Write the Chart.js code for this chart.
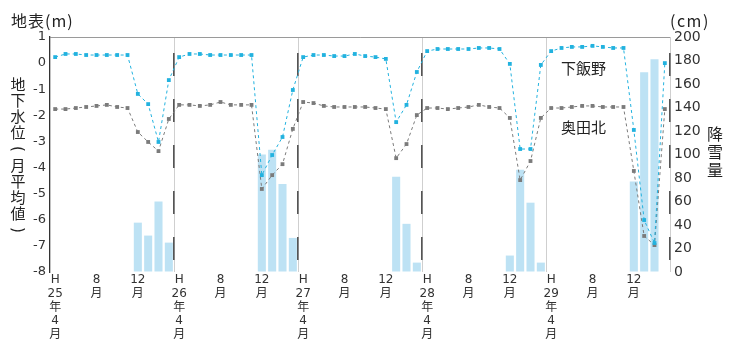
<!DOCTYPE html>
<html>
<head>
<meta charset="utf-8">
<script src="https://cdn.jsdelivr.net/npm/chart.js@4"></script>
<style>
  body { margin: 0; background: #fff; }
  #wrap { position: relative; width: 739px; height: 349px; }
  .txt { position: absolute; color: #222; font-family: "Noto Sans CJK JP", "DejaVu Sans", sans-serif; white-space: nowrap; }
  .col { text-align: center; width: 20px; }
  .rot { display: inline-block; transform: rotate(90deg); font-family: "DejaVu Sans", sans-serif; }
</style>
</head>
<body>
<div id="wrap">
  <canvas id="chartBase" width="739" height="349"></canvas>
  <div class="txt" style="left:11px; top:8px; font-size:16px; letter-spacing:1px;">地表(m)</div>
  <div class="txt col" style="left:8px; top:76px; font-size:15px; line-height:16px;">地<br>下<br>水<br>位<br><span class="rot">(</span><br>月<br>平<br>均<br>値<br><span class="rot">)</span></div>
  <div class="txt" style="left:670px; top:8px; font-size:16px; letter-spacing:1.5px;">(cm)</div>
  <div class="txt col" style="left:705px; top:124px; font-size:16px; line-height:18px;">降<br>雪<br>量</div>
  <div class="txt" style="left:561px; top:57px; font-size:15px;">下飯野</div>
  <div class="txt" style="left:561px; top:116px; font-size:15px;">奥田北</div>
</div>
<script>
// 月ラベル (H25年4月 ～ H30年3月)
const monthLabels = [
  ["H", "25", "年", "4", "月"], "", "", "", ["8", "月"], "", "", "", ["12", "月"], "", "", "",
  ["H", "26", "年", "4", "月"], "", "", "", ["8", "月"], "", "", "", ["12", "月"], "", "", "",
  ["H", "27", "年", "4", "月"], "", "", "", ["8", "月"], "", "", "", ["12", "月"], "", "", "",
  ["H", "28", "年", "4", "月"], "", "", "", ["8", "月"], "", "", "", ["12", "月"], "", "", "",
  ["H", "29", "年", "4", "月"], "", "", "", ["8", "月"], "", "", "", ["12", "月"], "", "", ""
];

// 地下水位 (m) 下飯野
const shimoIino = [
  0.23, 0.35, 0.35, 0.31, 0.31, 0.31, 0.31, 0.31, -1.18, -1.57, -3.02, -0.65,
  0.23, 0.35, 0.35, 0.31, 0.31, 0.31, 0.31, 0.31, -4.29, -3.52, -2.83, -1.03,
  0.23, 0.31, 0.31, 0.27, 0.27, 0.35, 0.27, 0.23, 0.16, -2.26, -1.6, -0.34,
  0.46, 0.54, 0.54, 0.54, 0.54, 0.58, 0.58, 0.54, -0.03, -3.29, -3.29, -0.07,
  0.46, 0.58, 0.62, 0.62, 0.66, 0.62, 0.58, 0.58, -2.56, -6.01, -6.89, 0.0
];

// 地下水位 (m) 奥田北
const okudaKita = [
  -1.76, -1.76, -1.72, -1.68, -1.64, -1.6, -1.68, -1.72, -2.64, -3.02, -3.37, -2.14,
  -1.6, -1.6, -1.64, -1.6, -1.49, -1.6, -1.6, -1.6, -4.82, -4.29, -3.87, -2.52,
  -1.49, -1.53, -1.64, -1.68, -1.68, -1.68, -1.68, -1.72, -1.76, -3.64, -3.1, -1.99,
  -1.72, -1.72, -1.76, -1.72, -1.68, -1.6, -1.68, -1.72, -2.1, -4.48, -3.75, -2.1,
  -1.72, -1.72, -1.68, -1.64, -1.64, -1.68, -1.68, -1.68, -4.13, -6.62, -6.97, -1.76
];

// 降雪量 (cm)
const kousetsu = [
  0, 0, 0, 0, 0, 0, 0, 0, 42, 31, 60, 25,
  0, 0, 0, 0, 0, 0, 0, 0, 100, 104, 75, 29,
  0, 0, 0, 0, 0, 0, 0, 0, 0, 81, 41, 8,
  0, 0, 0, 0, 0, 0, 0, 0, 14, 87, 59, 8,
  0, 0, 0, 0, 0, 0, 0, 0, 77, 170, 181, 0
];

const leftTicks = { min: -8, max: 1, step: 1 };
const rightTicks = { min: 0, max: 200, step: 20 };

const cyan = "#22b2df";
const gris = "#7b7b7b";
const snow = "#bde2f4";
const clear = "rgba(0,0,0,0)";

Chart.defaults.font.family = "'DejaVu Sans', 'Noto Sans CJK JP', sans-serif";
Chart.defaults.color = "#333";

// lineas de separacion de año (entre marzo y abril)
function sepColor(col, skip) {
  return function (ctx) {
    if (ctx.type !== "tick") return col; // linea final (borde derecho)
    if (skip && skip.indexOf(ctx.index) >= 0) return clear;
    return (ctx.index > 0 && ctx.index % 12 === 0) ? col : clear;
  };
}

const ctx = document.getElementById("chartBase").getContext("2d");
new Chart(ctx, {
  type: "bar",
  data: {
    labels: monthLabels,
    datasets: [
      {
        type: "line", label: "下飯野", data: shimoIino, yAxisID: "y", order: 1,
        borderColor: cyan, backgroundColor: cyan, borderWidth: 1, borderDash: [3, 3],
        pointStyle: "rect", pointRadius: 2.7, pointBorderWidth: 0, tension: 0
      },
      {
        type: "line", label: "奥田北", data: okudaKita, yAxisID: "y", order: 2,
        borderColor: gris, backgroundColor: gris, borderWidth: 1, borderDash: [3, 3],
        pointStyle: "rect", pointRadius: 2.7, pointBorderWidth: 0, tension: 0
      },
      {
        type: "bar", label: "降雪量", data: kousetsu, yAxisID: "y2", order: 3,
        backgroundColor: snow, barPercentage: 0.78, categoryPercentage: 1.0
      }
    ]
  },
  options: {
    responsive: false,
    animation: false,
    layout: { padding: { top: 37, left: 0, right: 0, bottom: 0 } },
    plugins: { legend: { display: false }, tooltip: { enabled: false } },
    scales: {
      x: {
        type: "category", position: "bottom", offset: true,
        grid: { offset: true, drawTicks: false, color: sepColor("#cfcfcf"), lineWidth: 1 },
        border: { display: false },
        ticks: {
          autoSkip: false, maxRotation: 0, minRotation: 0, padding: 1,
          font: { size: 12, lineHeight: 1.15 }, color: "#333"
        },
        afterFit: function (s) { s.height = 77; }
      },
      x2: {
        type: "category", position: "top", offset: true,
        grid: { offset: true, drawTicks: false, color: sepColor("#555", [48]), lineWidth: 1.6 },
        border: { display: false, dash: [23, 23], dashOffset: 30 },
        ticks: { display: false },
        afterFit: function (s) { s.height = 0; }
      },
      y: {
        position: "left", min: leftTicks.min, max: leftTicks.max,
        ticks: { stepSize: leftTicks.step, padding: 4, font: { size: 13 }, color: "#333" },
        grid: {
          drawTicks: false,
          color: function (c) { return c.tick && c.tick.value === leftTicks.max ? "#9a9a9a" : clear; }
        },
        border: { color: "#333", width: 1.3 },
        afterFit: function (s) { s.width = 50; }
      },
      y2: {
        position: "right", min: rightTicks.min, max: rightTicks.max,
        ticks: { stepSize: rightTicks.step, padding: 4, font: { size: 14 }, color: "#333" },
        grid: { drawOnChartArea: false, drawTicks: false },
        border: { display: false },
        afterFit: function (s) { s.width = 69; }
      }
    }
  }
});
</script>
</body>
</html>
